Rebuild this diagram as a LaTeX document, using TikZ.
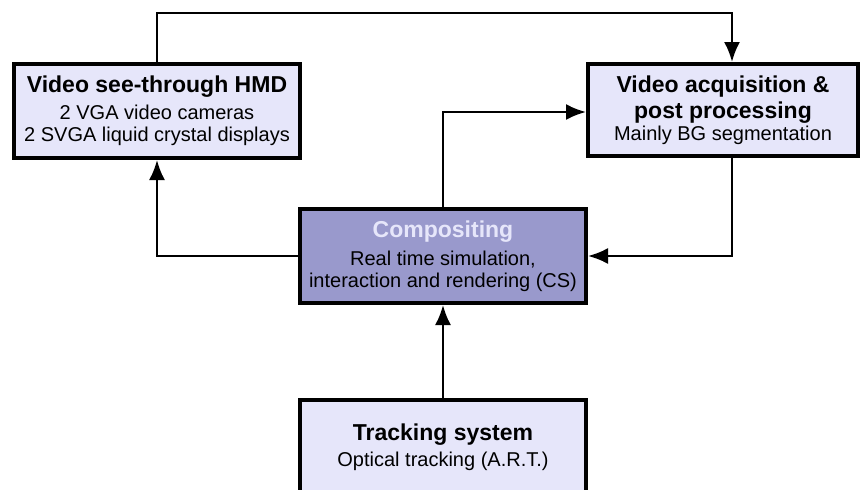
\documentclass[tikz,border=0pt]{standalone}
\usepackage{fontspec}
\setmainfont{Liberation Sans}
\usetikzlibrary{arrows.meta}
\definecolor{boxfill}{RGB}{230,230,250}
\definecolor{compfill}{RGB}{153,153,204}
\tikzset{
  block/.style={draw,line width=4pt,fill=boxfill,align=center,inner sep=0pt,
    minimum width=286pt,minimum height=94pt,font=\fontsize{20}{22}\selectfont},
  link/.style={line width=2.4pt,-{Latex[length=20pt,width=16pt]}}
}
\newcommand{\boxtitle}[1]{{\fontsize{23}{28}\selectfont\bfseries #1}}

\begin{document}
\begin{tikzpicture}[x=1pt,y=-1pt]
  \path[use as bounding box,clip] (0,0) rectangle (863,490);
  \node[block] (hmd) at (157,111)
    {\boxtitle{Video see-through HMD}\\[5pt] 2 VGA video cameras\\ 2 SVGA liquid crystal displays};
  \node[block,minimum width=270pt,minimum height=92pt] (acq) at (723,110)
    {\boxtitle{Video acquisition \&}\\[4pt] \boxtitle{post processing}\\ Mainly BG segmentation};
  \node[block,fill=compfill] (comp) at (443,256)
    {\boxtitle{\color{boxfill}Compositing}\\[6pt] Real time simulation,\\ interaction and rendering (CS)};
  \node[block] (track) at (443,447)
    {\boxtitle{Tracking system}\\[4pt] Optical tracking (A.R.T.)};
  \draw[link] (hmd.north) |- ([xshift=9pt,yshift=49pt]acq.north) -- ([xshift=9pt]acq.north);
  \draw[link] (comp.north) |- ([yshift=-2pt]acq.west);
  \draw[link] ([xshift=9pt]acq.south) |- (comp.east);
  \draw[link] (comp.west) -| (hmd.south);
  \draw[link] (track.north) -- (comp.south);
\end{tikzpicture}
\end{document}
